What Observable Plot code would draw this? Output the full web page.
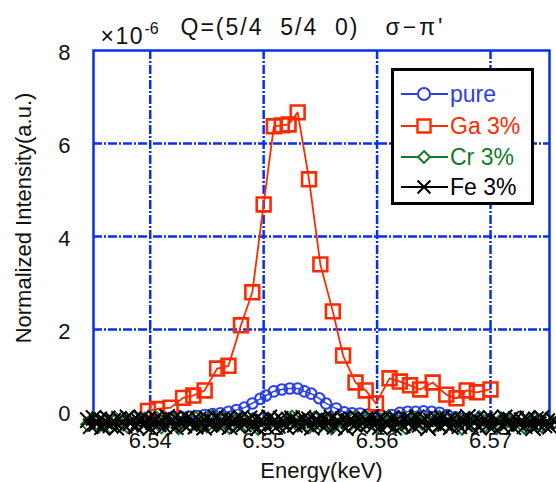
<!DOCTYPE html>
<html><head><meta charset="utf-8">
<script src="https://cdn.jsdelivr.net/npm/d3@7"></script>
<script src="https://cdn.jsdelivr.net/npm/@observablehq/plot@0.6"></script>
<style>
body{margin:0;background:#fff;}
#chart{width:556px;height:482px;}
</style></head><body><div id="chart"></div>
<script>
// ---- data ----
const xTicks = [6.54, 6.55, 6.56, 6.57];
const yTicks = [2, 4, 6, 8];
const yZeroTick = [0];
const gridYTicks = [2, 4, 6];

const seriesNames = ["pure", "Ga 3%", "Cr 3%", "Fe 3%"];
const seriesColors = ["#2a40e6", "#ff2a00", "#117a2a", "#000000"];

const pureEnergy = [6.5420,6.5427,6.5434,6.5441,6.5448,6.5455,6.5462,6.5469,6.5476,6.5483,
  6.5490,6.5497,6.5502,6.5509,6.5516,6.5523,6.5530,6.5536,6.5542,6.5549,
  6.5555,6.5564,6.5571,6.5578,6.5585,6.5592,6.5599,6.5606,6.5613,6.5620,
  6.5627,6.5634,6.5641,6.5648,6.5655,6.5662,6.5669,6.5676,6.5683,6.5690,6.5697];
const pureValue = [0.12,0.12,0.13,0.14,0.16,0.18,0.20,0.23,0.27,0.32,
  0.41,0.51,0.58,0.67,0.71,0.73,0.73,0.67,0.62,0.52,
  0.41,0.30,0.22,0.20,0.19,0.17,0.12,0.08,0.16,0.21,
  0.23,0.23,0.24,0.23,0.21,0.16,0.11,0.08,0.06,0.05,0.05];

const gaEnergy = [6.5398,6.5406,6.5418,6.5429,6.5438,6.5448,6.5459,6.5469,6.5480,6.5490,
  6.5500,6.5509,6.5516,6.5522,6.5530,6.5540,6.5550,6.5561,6.5570,6.5581,
  6.5590,6.5599,6.5611,6.5620,6.5629,6.5638,6.5649,6.5661,6.5670,6.5679,6.5688,6.5700];
const gaValue = [0.25,0.29,0.32,0.53,0.58,0.69,1.16,1.22,2.09,2.80,
  4.69,6.37,6.39,6.41,6.67,5.23,3.40,2.39,1.44,0.86,
  0.69,0.41,0.95,0.88,0.80,0.71,0.86,0.60,0.52,0.69,0.65,0.71];

const crEnergy = [6.5345,6.5350,6.5355,6.5360,6.5365,6.5370,6.5375,6.5380,6.5385,6.5390,
  6.5395,6.5400,6.5405,6.5410,6.5415,6.5420,6.5425,6.5430,6.5435,6.5440,
  6.5445,6.5450,6.5455,6.5460,6.5465,6.5470,6.5475,6.5480,6.5485,6.5490,
  6.5495,6.5500,6.5505,6.5510,6.5515,6.5520,6.5525,6.5530,6.5535,6.5540,
  6.5545,6.5550,6.5555,6.5560,6.5565,6.5570,6.5575,6.5580,6.5585,6.5590,
  6.5595,6.5600,6.5605,6.5610,6.5615,6.5620,6.5625,6.5630,6.5635,6.5640,
  6.5645,6.5650,6.5655,6.5660,6.5665,6.5670,6.5675,6.5680,6.5685,6.5690,
  6.5695,6.5700,6.5705,6.5710,6.5715,6.5720,6.5725,6.5730,6.5735,6.5740,
  6.5745,6.5750,6.5755];
const crValue = [-0.04,0.09,-0.07,0.03,-0.10,0.06,0.01,-0.08,0.11,-0.02,
  0.07,-0.05,0.10,-0.09,0.02,0.08,-0.11,0.04,-0.03,0.09,
  0.00,-0.07,0.12,-0.04,0.06,-0.10,0.03,0.08,-0.06,0.05,
  -0.12,0.10,-0.01,0.07,-0.08,0.04,0.11,-0.05,0.02,-0.09,
  0.09,-0.03,0.06,-0.11,0.08,0.00,-0.06,0.10,-0.04,0.03,
  0.07,-0.09,0.05,0.12,-0.07,0.02,-0.10,0.06,0.09,-0.02,
  0.04,-0.08,0.11,-0.05,0.01,0.08,-0.12,0.06,-0.03,0.10,
  -0.06,0.03,-0.09,0.07,0.05,-0.04,0.09,-0.10,0.02,0.08,
  -0.07,0.05,-0.01];

const feEnergy = [6.53450,6.53475,6.53500,6.53525,6.53550,6.53575,6.53600,6.53625,6.53650,6.53675,
  6.53700,6.53725,6.53750,6.53775,6.53800,6.53825,6.53850,6.53875,6.53900,6.53925,
  6.53950,6.53975,6.54000,6.54025,6.54050,6.54075,6.54100,6.54125,6.54150,6.54175,
  6.54200,6.54225,6.54250,6.54275,6.54300,6.54325,6.54350,6.54375,6.54400,6.54425,
  6.54450,6.54475,6.54500,6.54525,6.54550,6.54575,6.54600,6.54625,6.54650,6.54675,
  6.54700,6.54725,6.54750,6.54775,6.54800,6.54825,6.54850,6.54875,6.54900,6.54925,
  6.54950,6.54975,6.55000,6.55025,6.55050,6.55075,6.55100,6.55125,6.55150,6.55175,
  6.55200,6.55225,6.55250,6.55275,6.55300,6.55325,6.55350,6.55375,6.55400,6.55425,
  6.55450,6.55475,6.55500,6.55525,6.55550,6.55575,6.55600,6.55625,6.55650,6.55675,
  6.55700,6.55725,6.55750,6.55775,6.55800,6.55825,6.55850,6.55875,6.55900,6.55925,
  6.55950,6.55975,6.56000,6.56025,6.56050,6.56075,6.56100,6.56125,6.56150,6.56175,
  6.56200,6.56225,6.56250,6.56275,6.56300,6.56325,6.56350,6.56375,6.56400,6.56425,
  6.56450,6.56475,6.56500,6.56525,6.56550,6.56575,6.56600,6.56625,6.56650,6.56675,
  6.56700,6.56725,6.56750,6.56775,6.56800,6.56825,6.56850,6.56875,6.56900,6.56925,
  6.56950,6.56975,6.57000,6.57025,6.57050,6.57075,6.57100,6.57125,6.57150,6.57175,
  6.57200,6.57225,6.57250,6.57275,6.57300,6.57325,6.57350,6.57375,6.57400,6.57425,
  6.57450,6.57475,6.57500,6.57525,6.57550];
const feValue = [0.05,-0.08,0.10,-0.03,0.07,-0.10,0.02,0.09,-0.06,0.04,
  -0.11,0.08,0.00,-0.07,0.11,-0.02,0.06,-0.09,0.03,0.10,
  -0.05,0.07,-0.12,0.01,0.09,-0.04,0.05,-0.08,0.12,-0.01,
  0.06,-0.10,0.03,0.08,-0.06,0.10,-0.03,0.04,-0.09,0.07,
  0.00,-0.11,0.09,-0.05,0.02,0.11,-0.07,0.05,-0.02,0.08,
  -0.10,0.03,0.06,-0.08,0.10,-0.04,0.01,0.09,-0.06,0.07,
  -0.12,0.04,0.02,-0.09,0.11,-0.03,0.06,-0.07,0.08,0.00,
  -0.10,0.05,0.09,-0.05,0.03,-0.08,0.10,-0.02,0.07,-0.11,
  0.04,0.06,-0.04,0.09,-0.07,0.02,0.11,-0.09,0.05,-0.01,
  0.08,-0.12,0.03,0.07,-0.05,0.10,-0.08,0.01,0.06,-0.03,
  0.12,-0.06,0.04,-0.10,0.08,0.00,-0.04,0.09,-0.11,0.05,
  0.02,-0.07,0.10,-0.02,0.06,-0.09,0.11,-0.05,0.03,0.07,
  -0.12,0.04,-0.01,0.08,-0.06,0.10,-0.03,0.05,-0.10,0.09,
  0.01,-0.08,0.06,-0.04,0.12,-0.07,0.03,0.08,-0.11,0.00,
  0.07,-0.05,0.10,-0.09,0.04,0.02,-0.06,0.11,-0.02,0.06,
  -0.10,0.08,-0.03,0.05,-0.08,0.09,0.01,-0.12,0.07,-0.04,
  0.10,-0.06,0.03,-0.09,0.05];

// ---- build tables ----
const zip = (xs, ys) => xs.map((e, i) => ({e, v: ys[i]})).filter(d => d.v !== undefined);
const pure = zip(pureEnergy, pureValue);
const ga = zip(gaEnergy, gaValue);
const cr = zip(crEnergy, crValue);
const fe = zip(feEnergy, feValue);

const FRAME = "#0a2fe8";
const FONT = "'Liberation Sans', Arial, sans-serif";
const [C_PURE, C_GA, C_CR, C_FE] = seriesColors;
const gridStyle = {stroke: FRAME, strokeOpacity: 1, strokeWidth: 2.5, strokeDasharray: "9,2,2,2"};

const plot = Plot.plot({
  width: 556, height: 482,
  marginLeft: 93, marginRight: 7, marginTop: 50, marginBottom: 60,
  style: {fontFamily: FONT, fontSize: "22px", color: "#111", background: "#fff", overflow: "visible"},
  x: {domain: [6.535, 6.5752]},
  y: {domain: [0, 8]},
  marks: [
    Plot.gridX(xTicks, gridStyle),
    Plot.gridY(gridYTicks, gridStyle),
    Plot.frame({stroke: FRAME, strokeWidth: 2.5}),
    Plot.axisX(xTicks, {tickSize: 0, tickPadding: 10, tickFormat: d => d.toFixed(2), label: null}),
    Plot.axisY(yTicks, {tickSize: 0, tickPadding: 23, label: null, dy: 2}),
    Plot.axisY(yZeroTick, {tickSize: 0, tickPadding: 23, label: null, dy: -9}),
    // series
    Plot.line(pure, {x: "e", y: "v", stroke: C_PURE, strokeWidth: 1.5}),
    Plot.dot(pure, {x: "e", y: "v", r: 5.3, stroke: C_PURE, strokeWidth: 2, fill: "none"}),
    Plot.line(ga, {x: "e", y: "v", stroke: C_GA, strokeWidth: 1.8}),
    Plot.dot(ga, {x: "e", y: "v", symbol: "square", r: 7.8, stroke: C_GA, strokeWidth: 2.6, fill: "none"}),
    Plot.line(cr, {x: "e", y: "v", stroke: C_CR, strokeWidth: 2}),
    Plot.dot(cr, {x: "e", y: "v", symbol: "diamond2", r: 6, stroke: C_CR, strokeWidth: 2, fill: "none"}),
    Plot.line(fe, {x: "e", y: "v", stroke: C_FE, strokeWidth: 1.6}),
    Plot.dot(fe, {x: "e", y: "v", symbol: "times", r: 7, stroke: C_FE, strokeWidth: 2, fill: "none"}),
    // titles and axis labels
    Plot.text(["×10"], {text: d => d, frameAnchor: "top-left", textAnchor: "start", lineAnchor: "middle", dx: 7, dy: -13.5, fontSize: 23}),
    Plot.text(["-6"], {text: d => d, frameAnchor: "top-left", textAnchor: "start", lineAnchor: "middle", dx: 51, dy: -21.5, fontSize: 16}),
    Plot.text(["Q=(5/4\u00a0\u00a05/4\u00a0\u00a00)"], {text: d => d, frameAnchor: "top-left", textAnchor: "start", lineAnchor: "middle", dx: 87, dy: -23, fontSize: 23}),
    Plot.text(["σ−π'"], {text: d => d, frameAnchor: "top-left", textAnchor: "start", lineAnchor: "middle", dx: 292, dy: -23, fontSize: 23}),
    Plot.text(["Energy(keV)"], {text: d => d, frameAnchor: "bottom", textAnchor: "middle", lineAnchor: "top", dy: 40, fontSize: 22}),
    Plot.text(["Normalized Intensity(a.u.)"], {text: d => d, frameAnchor: "left", textAnchor: "middle", rotate: -90, lineAnchor: "middle", dx: -70, dy: -18.5, fontSize: 22})
  ]
});

const svg = d3.select(plot);
svg.selectAll("text").filter(function() { return this.textContent.startsWith("Q="); }).style("letter-spacing", "2px");
svg.selectAll("text").filter(function() { return this.textContent.startsWith("σ"); }).style("letter-spacing", "3px");
svg.selectAll("text").filter(function() { return this.textContent === "×10"; }).style("letter-spacing", "1.5px");

// ---- legend (inside the plot area, top right) ----
const lg = svg.append("g").attr("font-family", FONT).attr("font-size", 23).attr("text-anchor", "start");
lg.append("rect").attr("x", 392.5).attr("y", 69.5).attr("width", 140).attr("height", 134)
  .attr("fill", "#fff").attr("stroke", "#000").attr("stroke-width", 3);
const legendSymbols = [d3.symbolCircle, d3.symbolSquare, d3.symbolDiamond2 || d3.symbolSquare, d3.symbolTimes || d3.symbolCross];
const legendSizes = [Math.PI * 36, 170, 90, 110];
const legendRotate = [0, 0, d3.symbolDiamond2 ? 0 : 45, 0];
const rowY = [94, 126, 157, 187];
seriesNames.forEach((name, i) => {
  const y = rowY[i], col = seriesColors[i];
  lg.append("line").attr("x1", 401).attr("x2", 448).attr("y1", y).attr("y2", y).attr("stroke", col).attr("stroke-width", 2);
  lg.append("path").attr("d", d3.symbol().type(legendSymbols[i]).size(legendSizes[i])())
    .attr("transform", `translate(424,${y}) rotate(${legendRotate[i]})`)
    .attr("fill", "#fff").attr("stroke", col).attr("stroke-width", i === 1 ? 2.4 : 2);
  lg.append("text").attr("x", 450).attr("y", y + 8).attr("fill", col).attr("text-anchor", "start").text(name);
});

document.getElementById("chart").appendChild(plot);
</script></body></html>
